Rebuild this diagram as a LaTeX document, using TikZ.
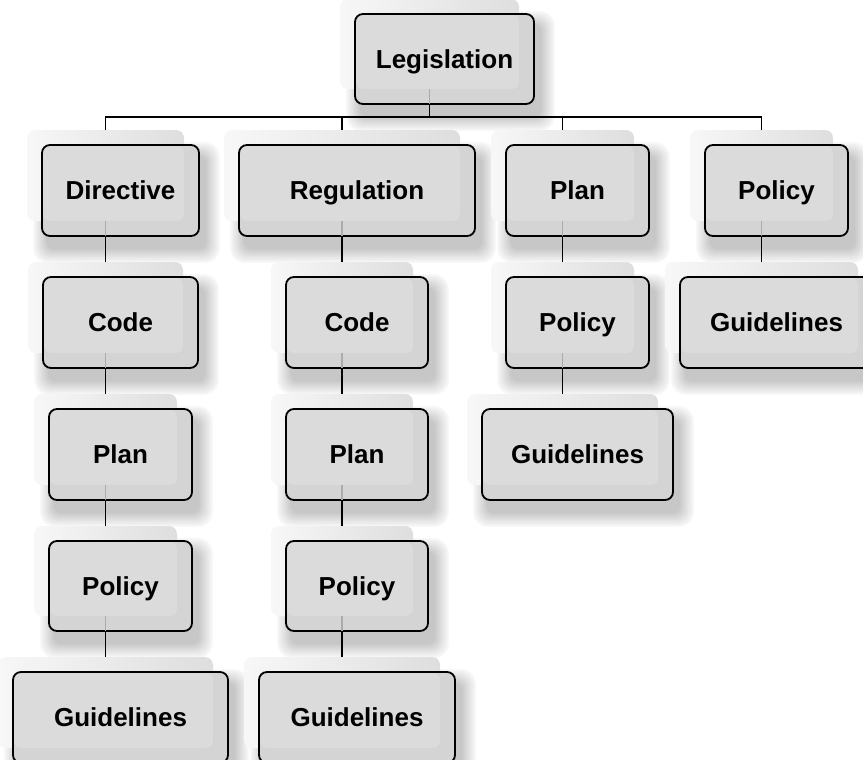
\documentclass[tikz,border=0pt]{standalone}
\usepackage{fontspec}
\setmainfont{Liberation Sans}

\pgfdeclarelayer{shadowlayer}
\pgfdeclarelayer{linelayer}
\pgfsetlayers{shadowlayer,linelayer,main}

\tikzset{
  ghostbox/.style={rectangle, rounded corners=8pt, draw=none,
    left color=black!3, right color=black!13, inner sep=0pt},
  frontbox/.style={rectangle, rounded corners=8pt, draw=black, line width=1.8pt,
    fill=none, inner sep=0pt, text height=18.6pt, text depth=0pt,
    font=\fontsize{26}{30}\selectfont\bfseries},
  link/.style={draw=black, line width=1.7pt},
  seeline/.style={draw=black!33, line width=1.4pt, shorten >=0.9pt},
}

% #1 name, #2 x centre, #3 y centre, #4 width, #5 height, #6 label
\newcommand\orgnode[6]{%
  \node[ghostbox, minimum width=#4pt, minimum height=#5pt] (#1G) at (#2-15,#3-15) {};
  % box face: darker rim, lighter where the back panel shows through
  \fill[black!17, rounded corners=8pt] (#2-#4/2,#3-#5/2) rectangle (#2+#4/2,#3+#5/2);
  \fill[black!14, rounded corners=7pt] (#2-#4/2+0.9,#3-#5/2+0.9) rectangle (#2+#4/2-15,#3+#5/2-15);
  \node[frontbox, minimum width=#4pt, minimum height=#5pt] (#1) at (#2,#3) {#6};
  % soft drop shadow: nested rounded rectangles, widest and lightest first
  \begin{pgfonlayer}{shadowlayer}
    \foreach \s in {0,...,20} {
      \pgfmathsetmacro\grow{14-\s}
      \pgfmathsetmacro\tone{min(22,22*(1-\grow/16))}
      \pgfmathsetmacro\ax{6-\grow}
      \pgfmathsetmacro\ay{\grow-12}
      \pgfmathsetmacro\bx{6+\grow}
      \pgfmathsetmacro\by{-12-\grow}
      \fill[black!\tone, rounded corners={8pt+0.5*max(\grow,0)*1pt}]
        ([xshift=\ax pt, yshift=\ay pt]#1.north west) rectangle
        ([xshift=\bx pt, yshift=\by pt]#1.south east);
    }
  \end{pgfonlayer}
}

\begin{document}
\begin{tikzpicture}[x=1pt, y=-1pt]
  \useasboundingbox (0,0) rectangle (863,760);

  % top level
  \orgnode{leg}{444.5}{59}{179}{90}{Legislation}
  % first level
  \orgnode{dir}{120.5}{190.5}{157}{91}{Directive}
  \orgnode{reg}{357}{190.5}{236}{91}{Regulation}
  \orgnode{plan3}{577.5}{190.5}{143}{91}{Plan}
  \orgnode{pol4}{776.5}{190.5}{143}{91}{Policy}
  % second level
  \orgnode{code1}{120.5}{322.5}{155}{91}{Code}
  \orgnode{code2}{357}{322.5}{142}{91}{Code}
  \orgnode{pol3}{577.5}{322.5}{143}{91}{Policy}
  \orgnode{gui4}{776.5}{322.5}{193}{91}{Guidelines}
  % third level
  \orgnode{plan1}{120.5}{454.5}{143}{91}{Plan}
  \orgnode{plan2}{357}{454.5}{142}{91}{Plan}
  \orgnode{gui3}{577.5}{454.5}{191}{91}{Guidelines}
  % fourth level
  \orgnode{pol1}{120.5}{586}{143}{90}{Policy}
  \orgnode{pol2}{357}{586}{142}{90}{Policy}
  % fifth level
  \orgnode{gui1}{120.5}{717.5}{215}{91}{Guidelines}
  \orgnode{gui2}{357}{717.5}{196}{91}{Guidelines}

  \coordinate (bar) at (0,117);

  \begin{pgfonlayer}{linelayer}
    \foreach \c in {dir,reg,plan3,pol4}
      \draw[link] (legG.south) -- (legG.south |- bar) -| (\c G.north);
    \draw[link] (dirG.south) -- (code1G.north);
    \draw[link] (code1G.south) -- (plan1G.north);
    \draw[link] (plan1G.south) -- (pol1G.north);
    \draw[link] (pol1G.south) -- (gui1G.north);
    \draw[link] (regG.south) -- (code2G.north);
    \draw[link] (code2G.south) -- (plan2G.north);
    \draw[link] (plan2G.south) -- (pol2G.north);
    \draw[link] (pol2G.south) -- (gui2G.north);
    \draw[link] (plan3G.south) -- (pol3G.north);
    \draw[link] (pol3G.south) -- (gui3G.north);
    \draw[link] (pol4G.south) -- (gui4G.north);
  \end{pgfonlayer}

  % connectors seen faintly through the boxes they leave
  \foreach \p in {leg,dir,reg,plan3,pol4,code1,code2,pol3,plan1,plan2,pol1,pol2}
    \draw[seeline] (\p G.south) -- (\p G.south |- \p.south);
\end{tikzpicture}
\end{document}
